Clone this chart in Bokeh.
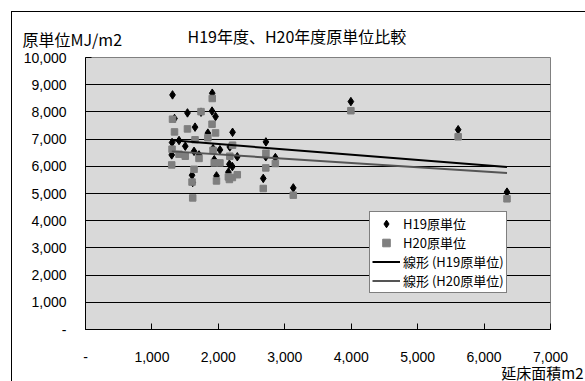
import numpy as np
from bokeh.plotting import figure
from bokeh.models import Label, FixedTicker, Range1d, Title, InlineStyleSheet
from bokeh.embed import file_html
from bokeh.resources import INLINE

# ---- data ----
floor_area = [1310, 1340, 1303, 1298, 1408, 1535, 1502, 1649, 1634, 1604, 1614, 1739,
              1709, 1842, 1908, 1905, 1958, 1920, 1938, 1972, 2024, 2214, 2172, 2166,
              2211, 2151, 2285, 2716, 2714, 2676, 2858, 3128, 3995, 5610, 6345]
h19_unit = [8625, 7757, 6875, 6419, 6949, 7963, 6739, 7440, 6550, 5673, 5404, 7990,
            6420, 7220, 8687, 8030, 7830, 6650, 6240, 5647, 6605, 7250, 6713, 6077,
            5990, 5785, 6350, 6897, 6350, 5555, 6320, 5206, 8379, 7346, 5051]
h20_unit = [7732, 7265, 6629, 6051, 6445, 7375, 6370, 6975, 5890, 5420, 4838, 8010,
            6290, 7050, 8493, 7548, 7228, 6590, 6125, 5463, 6125, 6776, 6371, 5515,
            5588, 5610, 5690, 6480, 5941, 5184, 6103, 4938, 8044, 7085, 4805]

x_ticks = [0, 1000, 2000, 3000, 4000, 5000, 6000, 7000]
x_tick_labels = ["-", "1,000", "2,000", "3,000", "4,000", "5,000", "6,000", "7,000"]
y_ticks = [0, 1000, 2000, 3000, 4000, 5000, 6000, 7000, 8000, 9000, 10000]
y_tick_labels = ["-", "1,000", "2,000", "3,000", "4,000", "5,000", "6,000", "7,000",
                 "8,000", "9,000", "10,000"]

title_text = "H19年度、H20年度原単位比較"
y_label_text = "原単位MJ/m2"
x_label_text = "延床面積m2"
series_names = ["H19原単位", "H20原単位", "線形 (H19原単位)", "線形 (H20原単位)"]

# ---- layout constants ----
W, H = 585, 381
FL, FR, FT, FB = 85, 550, 57, 329   # frame pixel edges

JP = "Noto Sans CJK JP"
NUM = "Liberation Sans"

p = figure(width=W, height=H, output_backend="svg", toolbar_location=None,
           x_range=Range1d(0, 7000), y_range=Range1d(0, 10000),
           min_border_left=FL, min_border_right=W - FR,
           min_border_top=FT, min_border_bottom=H - FB)

p.background_fill_color = "#d9d9d9"
p.border_fill_color = "white"
p.outline_line_color = "#808080"
p.outline_line_width = 1

p.xgrid.visible = False
p.ygrid.ticker = FixedTicker(ticks=y_ticks)
p.ygrid.grid_line_color = "#000000"
p.ygrid.grid_line_width = 1

for ax, ticks, labels in ((p.xaxis[0], x_ticks, x_tick_labels), (p.yaxis[0], y_ticks, y_tick_labels)):
    ax.ticker = FixedTicker(ticks=ticks)
    ax.major_label_overrides = {t: l for t, l in zip(ticks, labels)}
    ax.minor_tick_line_color = None
    ax.major_tick_in = 6
    ax.major_tick_out = 0
    ax.major_tick_line_color = "black"
    ax.axis_line_color = "black"
    ax.axis_line_width = 1
    ax.major_label_text_font = NUM
    ax.major_label_text_font_size = "14px"
    ax.major_label_text_color = "black"

p.xaxis.major_label_standoff = 22
p.yaxis.major_label_standoff = 19

# trend lines (least squares)
xa = np.array(floor_area, dtype=float)
xs_line = [xa.min(), xa.max()]
k19, b19 = np.polyfit(xa, np.array(h19_unit, dtype=float), 1)
k20, b20 = np.polyfit(xa, np.array(h20_unit, dtype=float), 1)

p.scatter(floor_area, h19_unit, marker="diamond", size=8.5, color="black",
          legend_label=series_names[0])
p.scatter(floor_area, h20_unit, marker="square", size=6.5, color="#7f7f7f",
          legend_label=series_names[1])
p.line(xs_line, [k19 * v + b19 for v in xs_line], line_color="black", line_width=2,
       legend_label=series_names[2])
p.line(xs_line, [k20 * v + b20 for v in xs_line], line_color="#555555", line_width=2,
       legend_label=series_names[3])

lg = p.legend[0]
lg.location = (284, 36)
lg.background_fill_color = "white"
lg.background_fill_alpha = 1
lg.border_line_color = "black"
lg.border_line_width = 1
lg.label_text_font = JP
lg.label_text_font_size = "13px"
lg.label_text_color = "black"
lg.glyph_width = 28
lg.glyph_height = 19
lg.label_height = 19
lg.label_standoff = 3
lg.spacing = 0
lg.padding = 2
lg.margin = 0

p.title.visible = False

# x axis caption below, right aligned
p.add_layout(Title(text=x_label_text, align="right", offset=-(583 - FR), standoff=-10,
                   text_font=JP, text_font_size="15px", text_font_style="normal",
                   text_color="black"), "below")

# top texts in the "above" side panel, canvas units
p.add_layout(Label(x=22, y=38, x_units="canvas", y_units="canvas", text=y_label_text,
                   text_align="left", text_baseline="middle", text_font=JP,
                   text_font_size="16px", text_color="black"), "above")
p.add_layout(Label(x=187, y=35, x_units="canvas", y_units="canvas", text=title_text,
                   text_align="left", text_baseline="middle", text_font=JP,
                   text_font_size="16px", text_color="black"), "above")

# outer chart-area border (left and top edges lie inside the window)
p.stylesheets = [InlineStyleSheet(css=(
    ":host { position: relative; }"
    ":host::after { content: ''; position: absolute; left: 11px; top: 11px; "
    "width: 574px; height: 370px; border-left: 1px solid black; "
    "border-top: 1px solid black; box-sizing: border-box; pointer-events: none; }"))]

open("out.html", "w").write(file_html(p, INLINE))
